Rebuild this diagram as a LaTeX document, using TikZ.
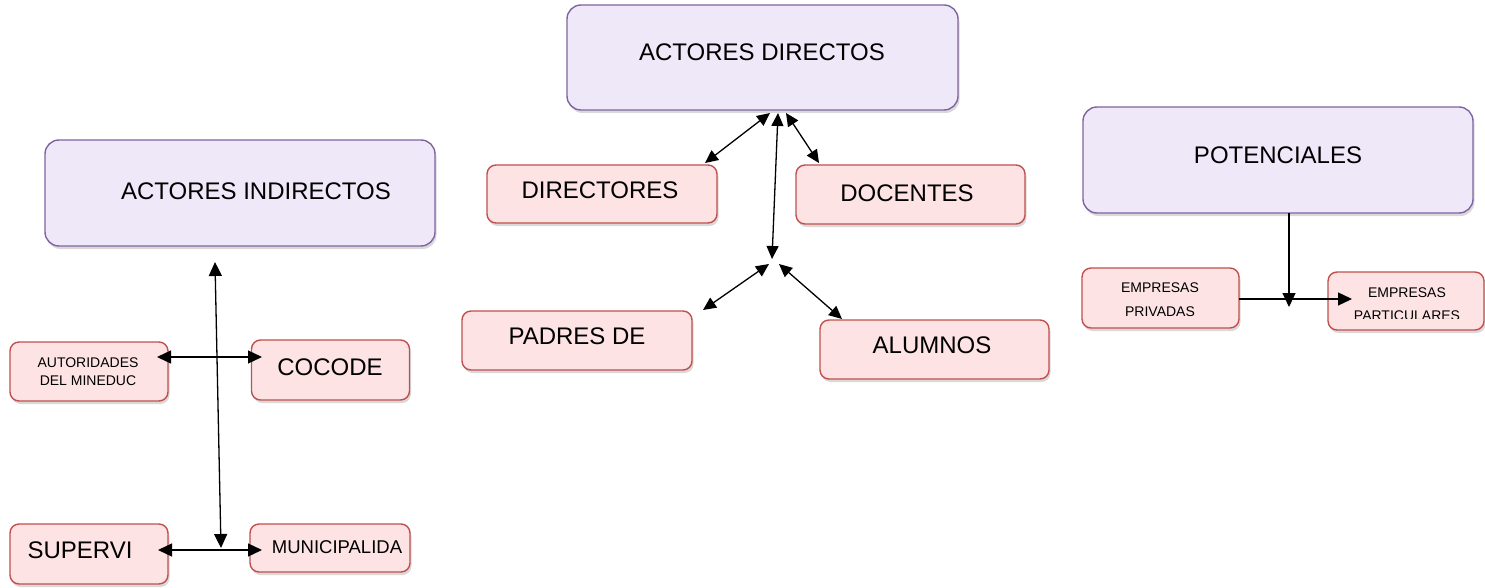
\documentclass[tikz,border=0pt]{standalone}
\usepackage{fontspec}
\setmainfont{Liberation Sans}
\usetikzlibrary{arrows.meta,shadows}
\definecolor{pfill}{HTML}{EFE8F8}
\definecolor{pline}{HTML}{8064A2}
\definecolor{rfill}{HTML}{FDE3E4}
\definecolor{rline}{HTML}{C0504D}
\tikzset{
  boxshadow/.style={drop shadow={shadow xshift=1.5pt,shadow yshift=-3pt,opacity=0.25,fill=black!60}},
  pbox/.style={draw=pline,fill=pfill,line width=1.4pt,rounded corners=14pt,boxshadow,inner sep=0pt},
  rbox/.style={draw=rline,fill=rfill,line width=1.4pt,rounded corners=9pt,boxshadow,inner sep=0pt},
  bigtxt/.style={inner sep=0pt,font=\fontsize{24}{28}\selectfont},
  midtxt/.style={inner sep=0pt,font=\fontsize{18.5}{22}\selectfont},
  smalltxt/.style={inner sep=0pt,align=center,font=\fontsize{14}{18}\selectfont},
  conn/.style={line width=1.3pt,{Triangle[length=13pt,width=12pt]}-{Triangle[length=13pt,width=12pt]}},
  conn1/.style={line width=1.3pt,-{Triangle[length=14pt,width=13pt]}},
  connb/.style={line width=1.3pt,{Triangle[length=14pt,width=13pt]}-{Triangle[length=14pt,width=13pt]}},
}
\begin{document}
\begin{tikzpicture}[x=1pt,y=-1pt]
\useasboundingbox (0,0) rectangle (1485,588);
% ---- boxes
\node[pbox,minimum width=391pt,minimum height=105pt] (ad) at (762.5,57.5) {};
\node[bigtxt] (adt) at (762,52) {ACTORES DIRECTOS};
\node[pbox,minimum width=390pt,minimum height=106pt] (ai) at (240,193) {};
\node[bigtxt] (ait) at (256,191) {ACTORES INDIRECTOS};
\node[pbox,minimum width=390pt,minimum height=106pt] (po) at (1278,160) {};
\node[bigtxt] (pot) at (1278,155) {POTENCIALES};

\node[rbox,minimum width=230pt,minimum height=58pt] (dir) at (602,194) {};
\node[bigtxt] (dirt) at (600,190) {DIRECTORES};
\node[rbox,minimum width=229pt,minimum height=59pt] (doc) at (910.5,194.5) {};
\node[bigtxt] (doct) at (907,193) {DOCENTES};
\node[rbox,minimum width=230pt,minimum height=59pt] (pad) at (577,340.5) {};
\node[bigtxt] (padt) at (577,336) {PADRES DE};
\node[rbox,minimum width=229pt,minimum height=59pt] (alu) at (934.5,349.5) {};
\node[bigtxt] (alut) at (932,345) {ALUMNOS};

\node[rbox,minimum width=158pt,minimum height=59pt] (aut) at (89,371.5) {};
\node[smalltxt] (autt) at (88,372) {AUTORIDADES\\DEL MINEDUC};
\node[rbox,minimum width=158pt,minimum height=60pt] (coc) at (330.5,370) {};
\node[bigtxt] (coct) at (330,367) {COCODE};
\node[rbox,minimum width=158pt,minimum height=60pt] (sup) at (89,554) {};
\node[bigtxt] (supt) at (80,550) {SUPERVI};
\node[rbox,minimum width=160pt,minimum height=48pt] (mun) at (330,548) {};
\node[midtxt] (munt) at (337,547) {MUNICIPALIDA};

\node[rbox,minimum width=157pt,minimum height=60pt] (epr) at (1160.5,298) {};
\node[smalltxt,font=\fontsize{14}{24}\selectfont] (eprt) at (1160,300) {EMPRESAS\\PRIVADAS};
\node[rbox,minimum width=156pt,minimum height=58pt] (epa) at (1406,301) {};
\begin{scope}
\clip (1328,272) rectangle (1484,318.5);
\node[smalltxt,font=\fontsize{14}{23}\selectfont] (epat) at (1407,304) {EMPRESAS\\PARTICULARES};
\end{scope}

% ---- connector end points
\coordinate (hubA) at (778,113);
\coordinate (hubAl) at (770,113);
\coordinate (hubAr) at (786,113);
\coordinate (hubB) at (772,259);
\coordinate (hubBl) at (769,264);
\coordinate (hubBr) at (779,264);
\coordinate (dirT) at (705,163);
\coordinate (docT) at (819,163);
\coordinate (padE) at (703,310);
\coordinate (aluT) at (842,319);

\coordinate (aiB) at (215,262);
\coordinate (vB) at (221,548);
\coordinate (autR) at (157,357);
\coordinate (cocL) at (262,357);
\coordinate (supR) at (158,550);
\coordinate (munL) at (262,550);

\coordinate (poB) at (1289,213);
\coordinate (poV) at (1289,307);
\coordinate (eprR) at (1239,299);
\coordinate (epaL) at (1352,299);

% ---- connectors
\draw[conn] (hubAl) -- (dirT);
\draw[conn] (hubA) -- (hubB);
\draw[conn] (hubAr) -- (docT);
\draw[conn] (hubBl) -- (padE);
\draw[conn] (hubBr) -- (aluT);

\draw[connb] (aiB) -- (vB);
\draw[connb] (autR) -- (cocL);
\draw[connb] (supR) -- (munL);

\draw[conn1] (poB) -- (poV);
\draw[conn1] (eprR) -- (epaL);
\end{tikzpicture}
\end{document}
